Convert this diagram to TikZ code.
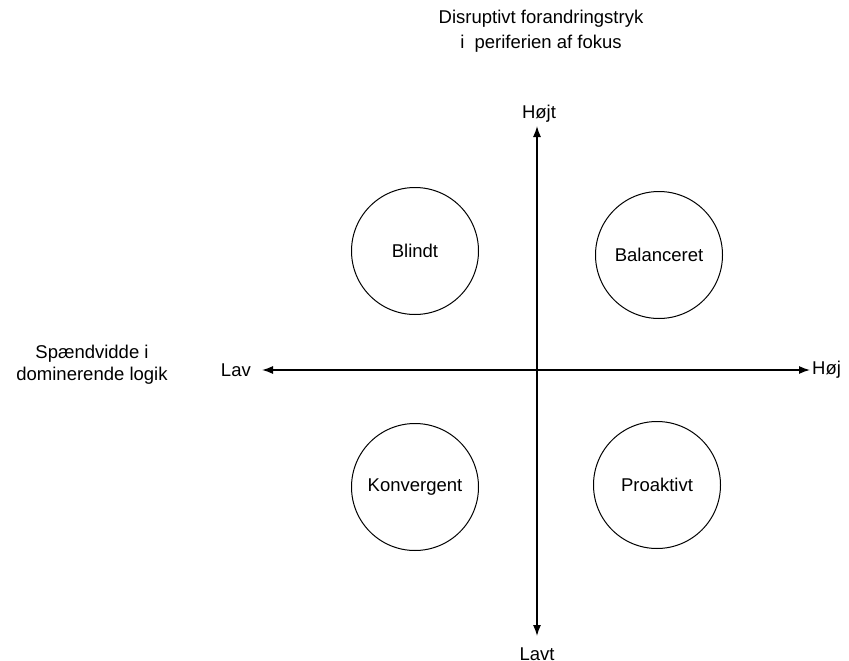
\documentclass[tikz,border=0pt]{standalone}
\usepackage{fontspec}
\setmainfont{Liberation Sans}
\usetikzlibrary{arrows.meta}
\begin{document}
\begin{tikzpicture}[x=1pt,y=-1pt,
  lbl/.style={font=\fontsize{18.5}{22}\selectfont, inner sep=0pt, align=center},
  quad/.style={draw, circle, minimum size=127pt, inner sep=0pt, line width=1pt, font=\fontsize{18.5}{22}\selectfont},
  axis/.style={line width=1.3pt, {Latex[length=11pt,width=8pt]}-{Latex[length=11pt,width=8pt]}}]
\clip (0,0) rectangle (849,661);
\useasboundingbox (0,0) rectangle (849,661);
% axes end points
\coordinate (top) at (537,126);
\coordinate (bot) at (537,636);
\coordinate (lft) at (262,370);
\coordinate (rgt) at (810,370);
\draw[axis] (top) -- (bot);
\draw[axis] (lft) -- (rgt);
% axis labels
\node[lbl, anchor=base] (hojt) at (539,118) {Højt};
\node[lbl, anchor=north] (lavt) at (537,648) {Lavt};
\node[lbl, anchor=east] (lav) at (251,370) {Lav};
\node[lbl, anchor=west] (hoj) at (812,370) {Høj};
\node[lbl, anchor=north] (xtitle) at (92,345) {Spændvidde i\\dominerende logik};
\node[lbl, anchor=north, font=\fontsize{18.5}{25}\selectfont] (ytitle) at (541,10) {Disruptivt forandringstryk\\i\ \ periferien af fokus};
% quadrants
\node[quad] (blindt) at (415,251) {Blindt};
\node[quad] (bal) at (659,255) {Balanceret};
\node[quad] (konv) at (415,487) {Konvergent};
\node[quad] (pro) at (657,485) {Proaktivt};
\end{tikzpicture}
\end{document}
